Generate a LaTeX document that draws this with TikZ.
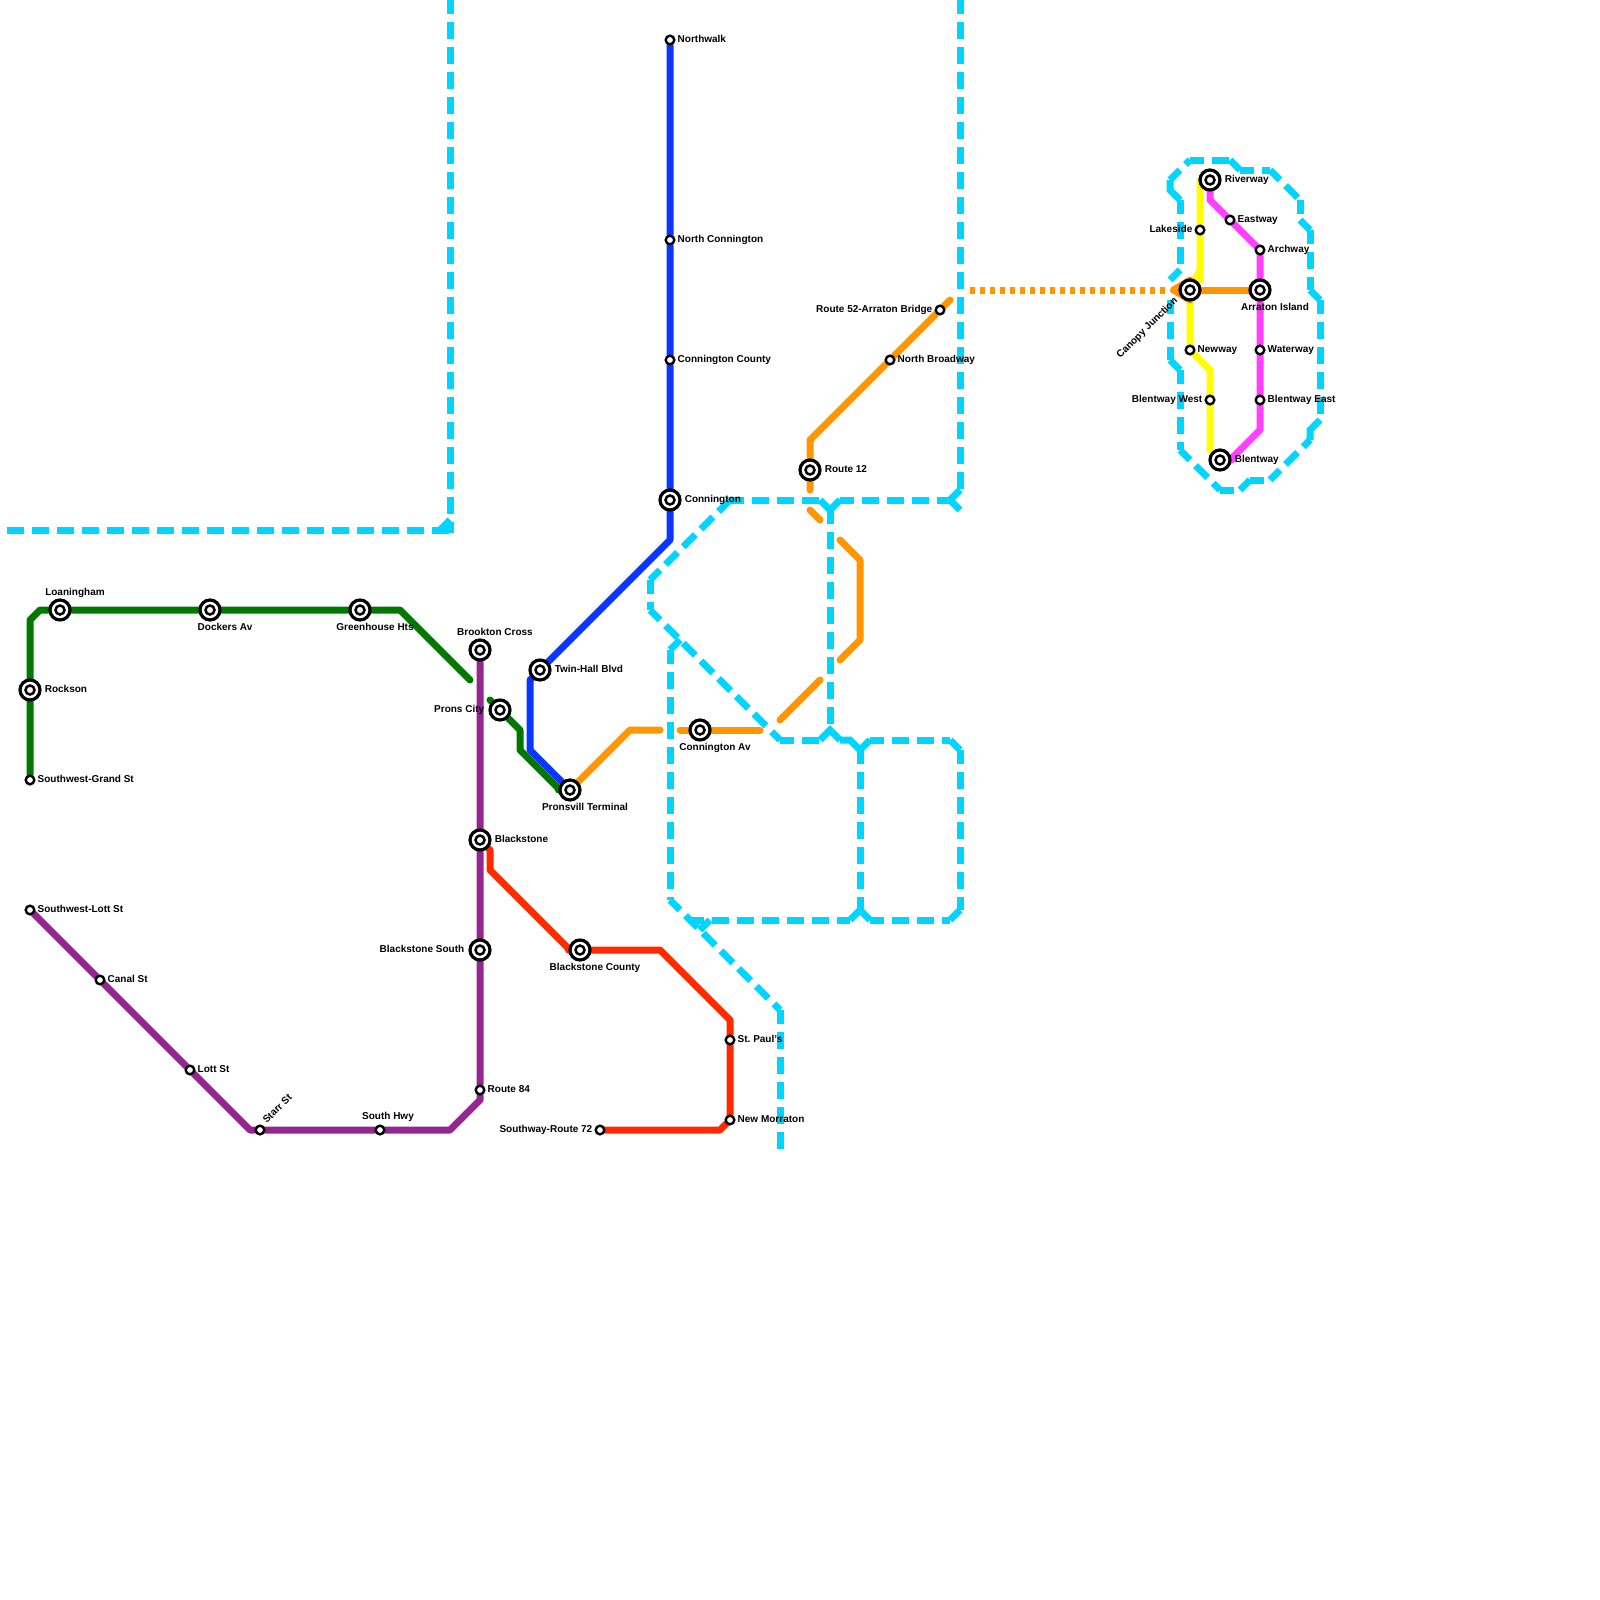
\documentclass[tikz,border=0pt]{standalone}
\usepackage{fontspec}
\setmainfont{Liberation Sans}
\usepackage{xcolor}
\usetikzlibrary{positioning,backgrounds}

\definecolor{cyanrail}{HTML}{00D4FF}
\definecolor{greenrail}{HTML}{007800}
\definecolor{bluerail}{HTML}{0A37FF}
\definecolor{purplerail}{HTML}{93278F}
\definecolor{redrail}{HTML}{FF2A00}
\definecolor{orangerail}{HTML}{FF9600}
\definecolor{yellowrail}{HTML}{FFFF00}
\definecolor{pinkrail}{HTML}{FF40FF}

\begin{document}
\frenchspacing
\begin{tikzpicture}[
    x=10pt, y=-10pt,
    node distance=3pt,
    rail/.style={line width=7pt, line cap=round, line join=round},
    cyanline/.style={line width=7pt, cyanrail, dash pattern=on 17pt off 8pt, dash phase=3pt},
    cyanstub/.style={line width=7pt, cyanrail},
    bigstop/.style={circle, draw=black, fill=white, line width=3.2pt, minimum size=20pt, inner sep=0pt,
      path picture={\draw[black, line width=2.5pt] (path picture bounding box.center) circle (4.5pt);}},
    smallstop/.style={circle, draw=black, fill=white, line width=2.4pt, minimum size=8.6pt, inner sep=0pt},
    stoptext/.style={inner sep=0pt, text height=9pt, text depth=4pt, font=\fontsize{10}{12}\selectfont\bfseries}
  ]
    \useasboundingbox (0,0) rectangle (160,160);

    % stops
    \node[bigstop] (loaningham) at (6,61) {};
    \node[bigstop] (dockers) at (21,61) {};
    \node[bigstop] (greenhouse) at (36,61) {};
    \node[bigstop] (rockson) at (3,69) {};
    \node[smallstop] (sw_grand) at (3,78) {};
    \node[smallstop] (sw_lott) at (3,91) {};
    \node[smallstop] (canal) at (10,98) {};
    \node[smallstop] (lott) at (19,107) {};
    \node[smallstop] (starr) at (26,113) {};
    \node[smallstop] (south_hwy) at (38,113) {};
    \node[smallstop] (route84) at (48,109) {};
    \node[bigstop] (brookton) at (48,65) {};
    \node[bigstop] (blackstone) at (48,84) {};
    \node[bigstop] (blackstone_s) at (48,95) {};
    \node[bigstop] (prons_city) at (50,71) {};
    \node[bigstop] (twinhall) at (54,67) {};
    \node[bigstop] (pronsvill) at (57,79) {};
    \node[bigstop] (blackstone_c) at (58,95) {};
    \node[smallstop] (southway) at (60,113) {};
    \node[smallstop] (stpauls) at (73,104) {};
    \node[smallstop] (morraton) at (73,112) {};
    \node[smallstop] (northwalk) at (67,4) {};
    \node[smallstop] (n_connington) at (67,24) {};
    \node[smallstop] (connington_c) at (67,36) {};
    \node[bigstop] (connington) at (67,50) {};
    \node[bigstop] (connington_av) at (70,73) {};
    \node[bigstop] (route12) at (81,47) {};
    \node[smallstop] (n_broadway) at (89,36) {};
    \node[smallstop] (route52) at (94,31) {};
    \node[bigstop] (canopy) at (119,29) {};
    \node[bigstop] (riverway) at (121,18) {};
    \node[smallstop] (lakeside) at (120,23) {};
    \node[smallstop] (eastway) at (123,22) {};
    \node[smallstop] (archway) at (126,25) {};
    \node[bigstop] (arraton) at (126,29) {};
    \node[smallstop] (newway) at (119,35) {};
    \node[smallstop] (waterway) at (126,35) {};
    \node[smallstop] (blent_w) at (121,40) {};
    \node[smallstop] (blent_e) at (126,40) {};
    \node[bigstop] (blentway) at (122,46) {};

    \begin{pgfonlayer}{background}
    % cyan
    \draw[cyanline] (45,0) -- (45,53.3);
    \draw[cyanline, dash phase=0pt] (0.65,53) -- (45.3,53);
    \draw[cyanstub] (44,53) -- (45,52);
    \draw[cyanline] (96,0) -- (96,49);
    \draw[cyanstub] (96,51) -- (95,50) -- (96,49);
    \draw[cyanline] (84,50) -- (95,50);
    \draw[cyanstub] (82,50) -- (83,51) -- (84,50);
    \draw[cyanline] (73,50) -- (82,50);
    \draw[cyanline] (65,58) -- (73,50);
    \draw[cyanline] (65,58) -- (65,61);
    \draw[cyanline] (65,61) -- (78,74);
    \draw[cyanline] (83,51) -- (83,73);
    \draw[cyanline] (78,74) -- (82,74);
    \draw[cyanstub] (82,74) -- (83,73) -- (84,74);
    \draw[cyanstub] (84,74) -- (85,74) -- (86,75) -- (87,74);
    \draw[cyanline] (87,74) -- (95,74);
    \draw[cyanstub] (95,74) -- (96,75);
    \draw[cyanline] (86,75) -- (86,91);
    \draw[cyanline] (96,75) -- (96,91);
    \draw[cyanstub] (96,91) -- (95,92);
    \draw[cyanline] (87,92) -- (95,92);
    \draw[cyanstub] (85,92) -- (86,91) -- (87,92);
    \draw[cyanline] (69,92) -- (85,92);
    \draw[cyanstub] (71,92) -- (70,93);
    \draw[cyanstub] (68,64) -- (67,65);
    \draw[cyanline] (67,65) -- (67,90);
    \draw[cyanline] (67,90) -- (78,101);
    \draw[cyanline] (78,101) -- (78,115);
    % cyan ring round the east end
    \draw[cyanstub] (117,28) -- (118,27);
    \draw[cyanline] (118,20) -- (118,27);
    \draw[cyanstub] (117,18) -- (117,19) -- (118,20);
    \draw[cyanline] (117,18) -- (119,16);
    \draw[cyanline] (119,16) -- (123,16);
    \draw[cyanstub] (123,16) -- (124,17);
    \draw[cyanline] (124,17) -- (127,17);
    \draw[cyanline] (127,17) -- (130,20);
    \draw[cyanline] (130,20) -- (130,22);
    \draw[cyanstub] (130,22) -- (131,23);
    \draw[cyanline] (131,23) -- (131,29);
    \draw[cyanstub] (131,29) -- (132,30);
    \draw[cyanline] (132,30) -- (132,42);
    \draw[cyanstub] (132,42) -- (131,43) -- (131,44);
    \draw[cyanline] (127,48) -- (131,44);
    \draw[cyanline] (125,48) -- (127,48);
    \draw[cyanstub] (124,49) -- (125,48);
    \draw[cyanline] (122,49) -- (124,49);
    \draw[cyanline] (118,45) -- (122,49);
    \draw[cyanline] (118,37) -- (118,45);
    \draw[cyanstub] (117,36) -- (118,37);
    \draw[cyanline] (117,30) -- (117,36);

    % lines
    \draw[rail, greenrail] (sw_grand) -- (rockson) -- (3,62) -- (4,61) -- (loaningham) -- (dockers) -- (greenhouse) -- (40,61) -- (47,68);
    \draw[rail, greenrail] (49,70) -- (prons_city) -- (52,73) -- (52,75) -- (56,79) -- (pronsvill);
    \draw[rail, bluerail] (northwalk) -- (n_connington) -- (connington_c) -- (connington) -- (67,54) -- (twinhall);
    \draw[rail, bluerail] (twinhall) -- (53,68) -- (53,75) -- (pronsvill);
    \draw[rail, redrail] (blackstone) -- (49,85) -- (49,87) -- (57,95) -- (blackstone_c) -- (66,95) -- (73,102) -- (stpauls) -- (morraton) -- (72,113) -- (southway);
    \draw[rail, purplerail] (brookton) -- (blackstone) -- (blackstone_s) -- (route84) -- (48,110) -- (45,113) -- (south_hwy) -- (starr) -- (25,113) -- (lott) -- (canal) -- (sw_lott);
    \draw[rail, orangerail] (pronsvill) -- (63,73) -- (66,73);
    \draw[rail, orangerail] (68,73) -- (connington_av) -- (76,73);
    \draw[rail, orangerail] (78,72) -- (82,68);
    \draw[rail, orangerail] (84,66) -- (86,64) -- (86,56) -- (84,54);
    \draw[rail, orangerail] (82,52) -- (81,51);
    \draw[rail, orangerail] (81,49) -- (route12) -- (81,44) -- (n_broadway) -- (route52) -- (95,30);
    \draw[line width=7pt, orangerail, dash pattern=on 5pt off 5pt] (97,29) -- (117,29);
    \draw[rail, yellowrail] (120,18) -- (lakeside) -- (120,28) -- (canopy);
    \draw[rail, yellowrail] (120,27) -- (canopy) -- (newway) -- (121,37) -- (blent_w) -- (121,45) -- (blentway);
    \draw[rail, pinkrail] (riverway) -- (121,20) -- (eastway) -- (archway) -- (arraton) -- (waterway) -- (blent_e) -- (126,43) -- (123,46) -- (blentway);
    \draw[rail, orangerail] (119,28) -- (117.35,29) -- (119,30);
    \draw[rail, orangerail] (117.35,29) -- (canopy) -- (arraton);
    \end{pgfonlayer}

    % stop names
    \node[stoptext, above=-1pt of loaningham, xshift=15pt] (loaningham_txt) {Loaningham};
    \node[stoptext, below=0pt of dockers, xshift=15pt] (dockers_txt) {Dockers Av};
    \node[stoptext, below=0pt of greenhouse, xshift=15pt] (greenhouse_txt) {Greenhouse Hts};
    \node[stoptext, right=of rockson] (rockson_txt) {Rockson};
    \node[stoptext, right=2pt of sw_grand] (sw_grand_txt) {Southwest-Grand St};
    \node[stoptext, right=2pt of sw_lott] (sw_lott_txt) {Southwest-Lott St};
    \node[stoptext, right=2pt of canal] (canal_txt) {Canal St};
    \node[stoptext, right=2pt of lott] (lott_txt) {Lott St};
    \node[stoptext, anchor=west, rotate=45, xshift=9pt, yshift=2pt] (starr_txt) at (starr) {Starr St};
    \node[stoptext, above=1pt of south_hwy, xshift=8pt] (south_hwy_txt) {South Hwy};
    \node[stoptext, right=2pt of route84] (route84_txt) {Route 84};
    \node[stoptext, above=-1pt of brookton, xshift=15pt] (brookton_txt) {Brookton Cross};
    \node[stoptext, right=of blackstone] (blackstone_txt) {Blackstone};
    \node[stoptext, left=4pt of blackstone_s] (blackstone_s_txt) {Blackstone South};
    \node[stoptext, left=4pt of prons_city] (prons_city_txt) {Prons City};
    \node[stoptext, right=of twinhall] (twinhall_txt) {Twin-Hall Blvd};
    \node[stoptext, below=0pt of pronsvill, xshift=15pt] (pronsvill_txt) {Pronsvill Terminal};
    \node[stoptext, below=0pt of blackstone_c, xshift=15pt] (blackstone_c_txt) {Blackstone County};
    \node[stoptext, left=2pt of southway] (southway_txt) {Southway-Route 72};
    \node[stoptext, right=2pt of stpauls] (stpauls_txt) {St. Paul's};
    \node[stoptext, right=2pt of morraton] (morraton_txt) {New Morraton};
    \node[stoptext, right=2pt of northwalk] (northwalk_txt) {Northwalk};
    \node[stoptext, right=2pt of n_connington] (n_connington_txt) {North Connington};
    \node[stoptext, right=2pt of connington_c] (connington_c_txt) {Connington County};
    \node[stoptext, right=of connington] (connington_txt) {Connington};
    \node[stoptext, below=0pt of connington_av, xshift=15pt] (connington_av_txt) {Connington Av};
    \node[stoptext, right=of route12] (route12_txt) {Route 12};
    \node[stoptext, right=2pt of n_broadway] (n_broadway_txt) {North Broadway};
    \node[stoptext, left=2pt of route52] (route52_txt) {Route 52-Arraton Bridge};
    \node[stoptext, anchor=east, rotate=45, xshift=-16.5pt, yshift=3pt] (canopy_txt) at (canopy) {Canopy Junction};
    \node[stoptext, right=of riverway] (riverway_txt) {Riverway};
    \node[stoptext, left=2pt of lakeside] (lakeside_txt) {Lakeside};
    \node[stoptext, right=2pt of eastway] (eastway_txt) {Eastway};
    \node[stoptext, right=2pt of archway] (archway_txt) {Archway};
    \node[stoptext, below=0pt of arraton, xshift=15pt] (arraton_txt) {Arraton Island};
    \node[stoptext, right=2pt of newway] (newway_txt) {Newway};
    \node[stoptext, right=2pt of waterway] (waterway_txt) {Waterway};
    \node[stoptext, left=2pt of blent_w] (blent_w_txt) {Blentway West};
    \node[stoptext, right=2pt of blent_e] (blent_e_txt) {Blentway East};
    \node[stoptext, right=of blentway] (blentway_txt) {Blentway};
  \end{tikzpicture}
\end{document}
